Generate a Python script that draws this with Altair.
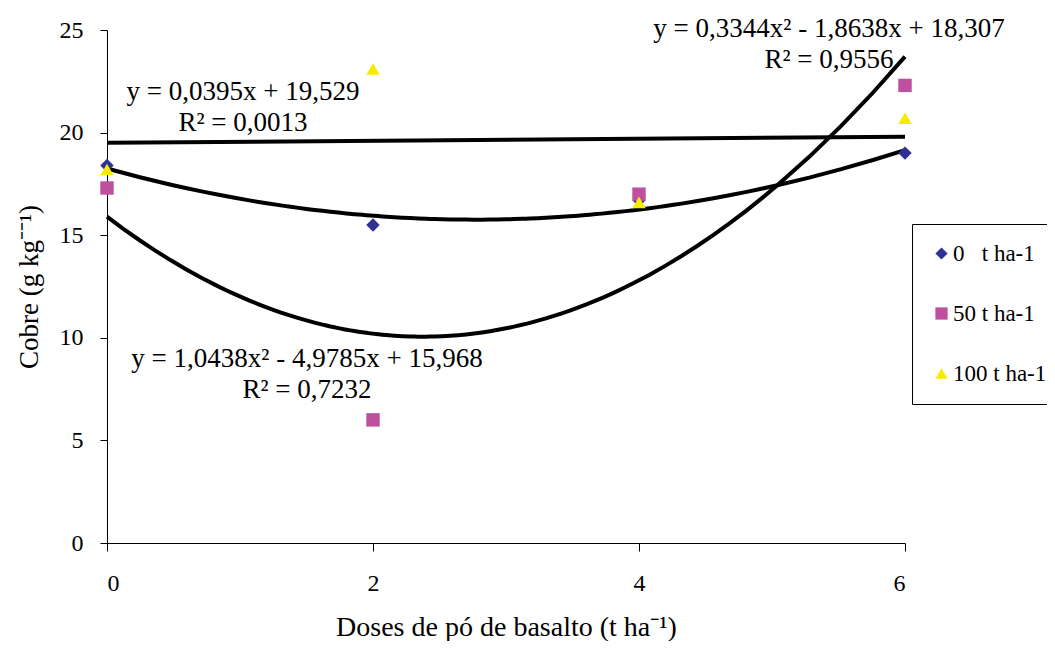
import altair as alt
import pandas as pd

# ---- data ----
doses = [0, 2, 4, 6]
cobre_0 = [18.4, 15.5, 16.7, 19.0]
cobre_50 = [17.3, 6.0, 17.0, 22.3]
cobre_100 = [18.2, 23.1, 16.6, 20.7]
series = ["0\u00a0\u00a0 t ha-1", "50 t ha-1", "100 t ha-1"]
shapes = ["diamond", "square", "triangle-up"]
colors = ["#2E3192", "#BF4F9F", "#F7EC00"]
x_ticks = [0, 2, 4, 6]
y_ticks = [0, 5, 10, 15, 20, 25]
eq_linear = ["y = 0,0395x + 19,529", "R² = 0,0013"]
eq_quad_0 = ["y = 0,3344x² - 1,8638x + 18,307", "R² = 0,9556"]
eq_quad_50 = ["y = 1,0438x² - 4,9785x + 15,968", "R² = 0,7232"]

rows = []
for lab, vals in zip(series, [cobre_0, cobre_50, cobre_100]):
    for d, v in zip(doses, vals):
        rows.append({"dose": d, "cobre": v, "serie": lab})
df = pd.DataFrame(rows)

FONT = "Liberation Serif, Times New Roman, Times, serif"

x_enc = alt.X(
    "dose:Q",
    scale=alt.Scale(domain=[0, 6], nice=False, zero=False),
    axis=alt.Axis(
        values=x_ticks, title="Doses de pó de basalto (t ha⁻¹)", grid=False,
        tickSize=8, labelPadding=20, titlePadding=18,
        labelFontSize=24, titleFontSize=28, labelFont=FONT, titleFont=FONT,
        titleFontWeight="normal", labelColor="black", titleColor="black",
        domainColor="black", tickColor="black",
    ),
)
y_enc = alt.Y(
    "cobre:Q",
    scale=alt.Scale(domain=[0, 25], nice=False),
    axis=alt.Axis(
        values=y_ticks, title="Cobre (g kg⁻⁻¹)", grid=False,
        tickSize=7, labelPadding=17, titlePadding=16,
        labelFontSize=24, titleFontSize=27, labelFont=FONT, titleFont=FONT,
        titleFontWeight="normal", labelColor="black", titleColor="black",
        domainColor="black", tickColor="black",
    ),
)

base = alt.Chart(df)

quad = (
    base.transform_filter(alt.datum.serie != series[2])
    .transform_regression("dose", "cobre", groupby=["serie"], method="poly",
                          order=2, extent=[0, 6])
    .mark_line(color="black", strokeWidth=4)
    .encode(x=x_enc, y=y_enc, detail="serie:N")
)
lin = (
    base.transform_filter(alt.datum.serie == series[2])
    .transform_regression("dose", "cobre", method="linear", extent=[0, 6])
    .mark_line(color="black", strokeWidth=4)
    .encode(x=x_enc, y=y_enc)
)

points = base.mark_point(filled=True, opacity=1, size=180, strokeWidth=0).encode(
    x=x_enc,
    y=y_enc,
    color=alt.Color("serie:N", scale=alt.Scale(domain=series, range=colors),
                    legend=alt.Legend(title=None)),
    shape=alt.Shape("serie:N", scale=alt.Scale(domain=series, range=shapes),
                    legend=alt.Legend(title=None)),
    order=alt.Order("order:Q"),
).transform_calculate(order="indexof(['" + "','".join(series) + "'], datum.serie)")


def text_layer(lines, cx, y_base):
    layers = []
    for i, t in enumerate(lines):
        layers.append(
            alt.Chart(pd.DataFrame({"t": [t]}))
            .mark_text(font=FONT, fontSize=27, align="center", baseline="alphabetic",
                       color="black")
            .encode(x=alt.value(cx), y=alt.value(y_base + 31 * i), text="t:N")
        )
    return layers


texts = []
texts += text_layer(eq_linear, 136, 70)
texts += text_layer(eq_quad_0, 722, 7)
texts += text_layer(eq_quad_50, 200, 337)

chart = (
    alt.layer(quad, lin, points, *texts)
    .properties(
        width=798, height=513,
        padding={"left": 99, "top": 22, "right": 142, "bottom": 98},
        autosize=alt.AutoSizeParams(type="none"),
    )
    .configure_view(stroke=None)
    .configure_legend(
        orient="none", legendX=805, legendY=194,
        strokeColor="black", strokeWidth=1, fillColor="white",
        padding=18, rowPadding=36, labelFont=FONT, labelFontSize=23,
        labelColor="black", symbolSize=150, labelOffset=0, symbolOffset=0,
        symbolStrokeWidth=0,
    )
)

chart.save("out.html", embed_options={"renderer": "svg", "actions": False})
